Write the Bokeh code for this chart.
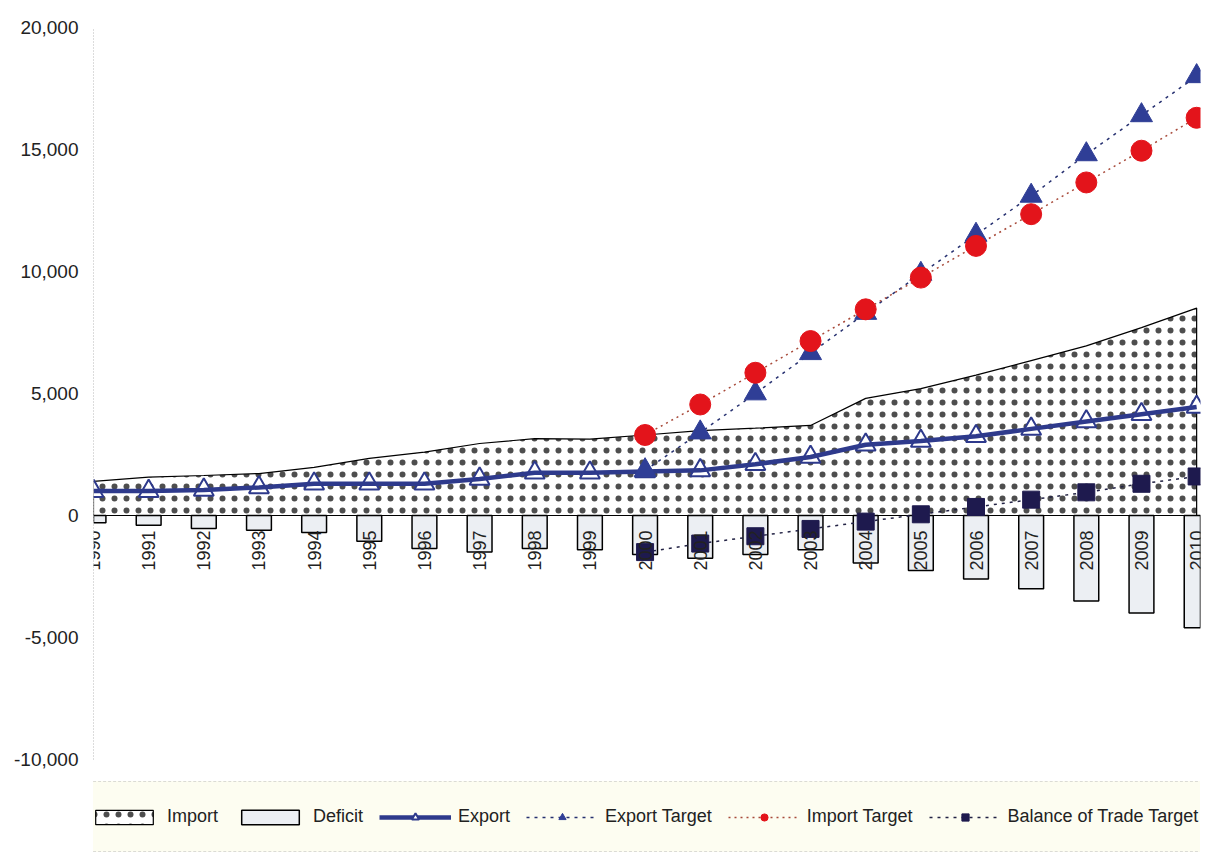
import math
from bokeh.plotting import figure
from bokeh.models import Legend, LegendItem, NumeralTickFormatter, FixedTicker, Range1d
from bokeh.core.properties import value
from bokeh.embed import file_html
from bokeh.resources import INLINE

years = list(range(1990, 2011))
year_labels = [str(y) for y in years]
import_vals = [1400, 1570, 1640, 1720, 1970, 2340, 2600, 2950, 3150, 3130, 3300,
               3480, 3580, 3690, 4800, 5200, 5750, 6350, 6950, 7700, 8500]
export_vals = [1000, 1000, 1050, 1150, 1300, 1300, 1300, 1500, 1750, 1750, 1800,
               1850, 2100, 2400, 2900, 3050, 3250, 3550, 3850, 4150, 4450]
deficit_vals = [-300, -400, -530, -600, -700, -1050, -1350, -1500, -1350, -1400, -1600,
                -1750, -1600, -1400, -1950, -2250, -2600, -3000, -3500, -4000, -4600]
target_years = list(range(2000, 2011))
export_target = [1850, 3400, 5000, 6650, 8300, 9900, 11500, 13100, 14800, 16400, 18000]
import_target = [3300, 4550, 5850, 7150, 8450, 9750, 11050, 12350, 13650, 14950, 16300]
balance_target = [-1500, -1150, -850, -550, -250, 50, 350, 650, 950, 1300, 1600]
y_ticks = [-10000, -5000, 0, 5000, 10000, 15000, 20000]

FONT = "Liberation Sans"

# frame extends to bottom of page so the legend can sit under the -10,000 line
p = figure(frame_width=1107, frame_height=825, output_backend="svg", toolbar_location=None,
           x_range=Range1d(1990, 2010.07), y_range=Range1d(-13811, 20000),
           min_border_left=93, min_border_right=23, min_border_top=27, min_border_bottom=0)
p.outline_line_color = None
p.xgrid.visible = False
p.ygrid.visible = False
p.xaxis.visible = False

ya = p.yaxis[0]
ya.ticker = FixedTicker(ticks=y_ticks)
ya.bounds = (-10000, 20000)
ya.formatter = NumeralTickFormatter(format="0,0")
ya.axis_line_color = "#b8b8b8"
ya.axis_line_dash = "1 2"
ya.major_tick_line_color = None
ya.minor_tick_line_color = None
ya.major_tick_out = 0
ya.major_label_standoff = 15
ya.major_label_text_font = FONT
ya.major_label_text_font_size = "19px"
ya.major_label_text_color = "#222222"

xs_patch = years + years[::-1]
ys_patch = import_vals + [0] * len(years)
imp = p.patch(xs_patch, ys_patch, fill_color="white", hatch_pattern=".", hatch_color="#222222",
              hatch_alpha=0.8, hatch_scale=12, hatch_weight=1, line_color="black", line_width=1.2)

defi = p.vbar(x=years, top=[0] * len(years), bottom=deficit_vals, width=0.45,
              fill_color="#eceff3", line_color="black", line_width=1.5)

blue = "#2e3a8c"
exp_m = p.scatter(years, export_vals, marker="triangle", size=20, fill_color="white",
                  line_color=blue, line_width=2)
exp_l = p.line(years, export_vals, line_color=blue, line_width=4.5)

bal_l = p.line(target_years, balance_target, line_color="#222244", line_width=1.5, line_dash="3 5")
bal_m = p.scatter(target_years, balance_target, marker="square", size=17, fill_color="#1e1a4e",
                  line_color="#1e1a4e")

et_l = p.line(target_years, export_target, line_color="#263070", line_width=1.5, line_dash="3 5")
et_m = p.scatter(target_years, export_target, marker="triangle", size=22, fill_color="#2f3e96",
                 line_color="#2f3e96")

it_l = p.line(target_years, import_target, line_color="#a84a3a", line_width=1.5, line_dash="2 4")
it_m = p.scatter(target_years, import_target, marker="circle", size=21, fill_color="#e3141b",
                 line_color="#e3141b")

p.text(x=years, y=[0] * len(years), text=year_labels, angle=math.pi / 2,
       text_align="right", text_baseline="middle", y_offset=15,
       text_font=value(FONT), text_font_size="18px", text_color="#222222")

legend = Legend(items=[
    LegendItem(label="Import", renderers=[imp]),
    LegendItem(label="Deficit", renderers=[defi]),
    LegendItem(label="Export", renderers=[exp_l, exp_m]),
    LegendItem(label="Export Target", renderers=[et_l, et_m]),
    LegendItem(label="Import Target", renderers=[it_l, it_m]),
    LegendItem(label="Balance of Trade Target", renderers=[bal_l, bal_m]),
], orientation="horizontal", location=(-30, 0))
legend.glyph_width = 72
legend.glyph_height = 18
legend.label_standoff = 7
legend.spacing = 16
legend.padding = 24
legend.margin = 0
legend.background_fill_color = "#fdfdf0"
legend.border_line_color = "#bbbbbb"
legend.border_line_dash = "2 2"
legend.label_text_font = FONT
legend.label_text_font_size = "18px"
legend.label_text_color = "#222222"
p.add_layout(legend, "center")

open("out.html", "w").write(file_html(p, INLINE))
